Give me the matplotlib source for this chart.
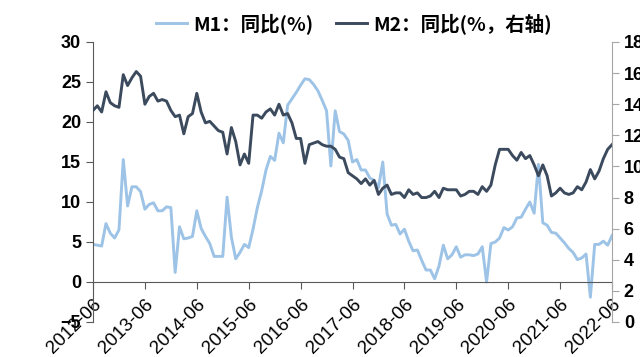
import numpy as np
import matplotlib
matplotlib.use("Agg")
import matplotlib.pyplot as plt
from matplotlib.lines import Line2D

plt.rcParams["font.family"] = ["Liberation Sans", "Noto Sans CJK SC", "DejaVu Sans"]

# monthly data, 2012-06 .. 2022-06
m1_yoy = [
    4.7, 4.6, 4.5, 7.3, 6.1, 5.5, 6.5,
    15.3, 9.5, 11.9, 11.9, 11.3, 9.1, 9.7, 9.9, 8.9, 8.9, 9.4, 9.3,
    1.2, 6.9, 5.4, 5.5, 5.7, 8.9, 6.7, 5.7, 4.8, 3.2, 3.2, 3.2,
    10.6, 5.6, 2.9, 3.7, 4.7, 4.3, 6.6, 9.3, 11.4, 14.0, 15.7, 15.2,
    18.6, 17.4, 22.1, 22.9, 23.7, 24.6, 25.4, 25.3, 24.7, 23.9, 22.7, 21.4,
    14.5, 21.4, 18.8, 18.5, 17.7, 15.0, 15.3, 14.0, 14.0, 13.0, 12.7, 11.8,
    15.0, 8.5, 7.1, 7.2, 6.0, 6.6, 5.1, 3.9, 4.0, 2.7, 1.5, 1.5,
    0.4, 2.0, 4.6, 2.9, 3.4, 4.4, 3.1, 3.4, 3.4, 3.3, 3.5, 4.4,
    0.0, 4.8, 5.0, 5.5, 6.8, 6.5, 6.9, 8.0, 8.1, 9.1, 10.0, 8.6,
    14.7, 7.4, 7.1, 6.2, 6.1, 5.5, 4.9, 4.2, 3.7, 2.8, 3.0, 3.5,
    -1.9, 4.7, 4.7, 5.1, 4.6, 5.8,
]
m2_yoy = [
    13.6, 13.9, 13.5, 14.8, 14.1, 13.9, 13.8,
    15.9, 15.2, 15.7, 16.1, 15.8, 14.0, 14.5, 14.7, 14.2, 14.3, 14.2, 13.6,
    13.2, 13.3, 12.1, 13.2, 13.4, 14.7, 13.5, 12.8, 12.9, 12.6, 12.3, 12.2,
    10.8, 12.5, 11.6, 10.1, 10.8, 10.2, 13.3, 13.3, 13.1, 13.5, 13.7, 13.3,
    14.0, 13.3, 13.4, 12.8, 11.8, 11.8, 10.2, 11.4, 11.5, 11.6, 11.4, 11.3,
    11.3, 11.1, 10.6, 10.5, 9.6, 9.4, 9.2, 8.9, 9.2, 8.8, 9.1, 8.2,
    8.6, 8.8, 8.2, 8.3, 8.3, 8.0, 8.5, 8.2, 8.3, 8.0, 8.0, 8.1,
    8.4, 8.0, 8.6, 8.5, 8.5, 8.5, 8.1, 8.2, 8.4, 8.4, 8.2, 8.7,
    8.4, 8.8, 10.1, 11.1, 11.1, 11.1, 10.7, 10.4, 10.9, 10.5, 10.7, 10.1,
    9.4, 10.1, 9.4, 8.1, 8.3, 8.6, 8.3, 8.2, 8.3, 8.7, 8.5, 9.0,
    9.8, 9.2, 9.7, 10.5, 11.1, 11.4,
]
tick_labels = ["2012-06", "2013-06", "2014-06", "2015-06", "2016-06", "2017-06",
               "2018-06", "2019-06", "2020-06", "2021-06", "2022-06"]
legend_labels = ["M1：同比(%)", "M2：同比(%，右轴)"]

c_m1 = "#9dc3e6"
c_m2 = "#3c4a5e"

x = np.arange(len(m1_yoy))

fig = plt.figure(figsize=(6.4, 3.57), dpi=100)
ax = fig.add_axes([93 / 640, 35 / 357, (612 - 93) / 640, (322 - 42) / 357])
ax2 = ax.twinx()

ax.plot(x, m1_yoy, color=c_m1, lw=2.1)
ax2.plot(x, m2_yoy, color=c_m2, lw=2.1)

# x axis crosses the left axis at 0 (this resets ticks, so do it first)
ax.spines["bottom"].set_position(("data", 0))
for s in ["top", "right"]:
    ax.spines[s].set_visible(False)
for s in ["top", "bottom", "left"]:
    ax2.spines[s].set_visible(False)
ax.spines["left"].set_color("#595959")
ax.spines["bottom"].set_color("#595959")
ax2.spines["right"].set_color("#a6a6a6")

ax.set_xlim(0, len(x) - 1)
ax.set_ylim(-5, 30)
ax.set_yticks(np.arange(-5, 31, 5))
ax2.set_ylim(0, 18)
ax2.set_yticks(np.arange(0, 19, 2))

ax.tick_params(axis="x", direction="out", length=5, pad=5, labelsize=13.5, colors="#595959",
               labelcolor="black")
ax.tick_params(axis="y", direction="out", length=5, labelsize=13, colors="#595959",
               labelcolor="black")
ax2.tick_params(axis="y", direction="out", length=5, labelsize=13, colors="#a6a6a6",
                labelcolor="black")
for lab in ax.get_yticklabels() + ax2.get_yticklabels():
    lab.set_fontweight("bold")

ax.set_xticks(np.arange(0, len(x), 12))
ax.set_xticklabels(tick_labels, rotation=45, ha="right", rotation_mode="anchor")

handles = [Line2D([], [], color=c_m1, lw=2.1), Line2D([], [], color=c_m2, lw=2.1)]
fig.legend(handles, legend_labels, loc="center", bbox_to_anchor=(0.553, 0.935), ncol=2,
           frameon=False, handlelength=1.6, handletextpad=0.3, columnspacing=1.2,
           prop={"family": ["Noto Sans CJK SC", "DejaVu Sans"], "weight": "bold", "size": 14})

fig.savefig("out.png", dpi=100)
